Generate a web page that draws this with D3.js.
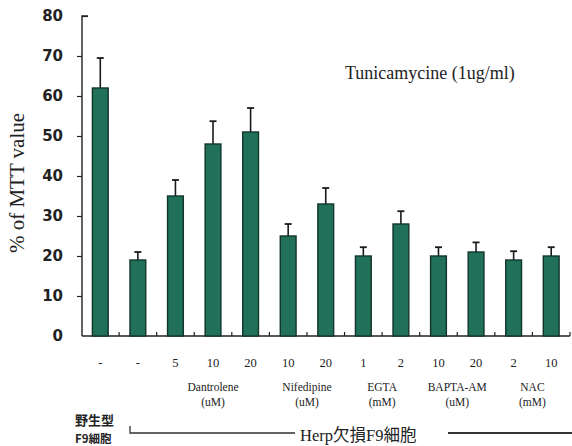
<!DOCTYPE html>
<html><head><meta charset="utf-8">
<script src="https://cdn.jsdelivr.net/npm/d3@7"></script>
<style>body{margin:0;background:#fff}svg{display:block}</style>
</head><body>
<svg id="c" width="572" height="446"></svg>
<script>
// ---- data ----
const doseLabels = ["-", "-", "5", "10", "20", "10", "20", "1", "2", "10", "20", "2", "10"];
const meanValues = [62, 19, 35, 48, 51, 25, 33, 20, 28, 20, 21, 19, 20];
const errorTops  = [69.5, 21, 39, 53.7, 57, 28, 37, 22.2, 31.2, 22.2, 23.4, 21.2, 22.2];
const groupNames = ["Dantrolene", "Nifedipine", "EGTA", "BAPTA-AM", "NAC"];
const groupUnits = ["(uM)", "(uM)", "(mM)", "(uM)", "(mM)"];
const groupStart = [2, 5, 7, 9, 11];
const groupEnd   = [4, 6, 8, 10, 12];
const yTicks = [0, 10, 20, 30, 40, 50, 60, 70, 80];

const svg = d3.select("#c");
const idx = d3.range(meanValues.length);
const x = d3.scaleBand().domain(idx).range([81.5, 570]).paddingInner(0.58).paddingOuter(0.29);
const y = d3.scaleLinear().domain([0, 80]).range([336, 16]);
const serif = "'Liberation Serif','Times New Roman',serif";

// y axis
const yAxis = svg.append("g").attr("transform", "translate(82,0)")
  .call(d3.axisLeft(y).tickValues(yTicks).tickSize(5).tickFormat(d3.format("d")).tickPadding(14));
yAxis.select(".domain").attr("stroke", "#222").attr("stroke-width", 1.4).attr("d", "M6,16H0V336");
yAxis.selectAll(".tick line").attr("stroke", "#222").attr("stroke-width", 1.2)
  .attr("x2", d => d === 80 ? 6 : (d === 0 ? 0 : -5));
yAxis.selectAll(".tick text").attr("font-family", "'DejaVu Sans',sans-serif")
  .attr("font-weight", "bold").attr("font-size", 15).attr("fill", "#222");

// x axis
const xAxisG = svg.append("g").attr("transform", "translate(0,336)");
xAxisG.append("line").attr("x1", 82).attr("x2", 570).attr("y1", 0).attr("y2", 0)
  .attr("stroke", "#222").attr("stroke-width", 1.4);
const step = x.step();
xAxisG.selectAll("line.tk").data(idx).enter().append("line").attr("class", "tk")
  .attr("x1", d => x(d) + x.bandwidth() / 2 + step / 2)
  .attr("x2", d => x(d) + x.bandwidth() / 2 + step / 2)
  .attr("y1", 0).attr("y2", -4).attr("stroke", "#222").attr("stroke-width", 1.2);

// error bars
const eb = svg.append("g");
eb.selectAll("line.v").data(idx).enter().append("line")
  .attr("x1", d => x(d) + x.bandwidth() / 2).attr("x2", d => x(d) + x.bandwidth() / 2)
  .attr("y1", d => y(meanValues[d])).attr("y2", d => y(errorTops[d]))
  .attr("stroke", "#1a1a1a").attr("stroke-width", 1.6);
eb.selectAll("line.c").data(idx).enter().append("line")
  .attr("x1", d => x(d) + x.bandwidth() / 2 - 3.5).attr("x2", d => x(d) + x.bandwidth() / 2 + 3.5)
  .attr("y1", d => y(errorTops[d])).attr("y2", d => y(errorTops[d]))
  .attr("stroke", "#1a1a1a").attr("stroke-width", 1.8);

// bars
svg.append("g").selectAll("rect").data(idx).enter().append("rect")
  .attr("x", d => x(d)).attr("width", x.bandwidth())
  .attr("y", d => y(meanValues[d])).attr("height", d => y(0) - y(meanValues[d]))
  .attr("fill", "#21705a").attr("stroke", "#12352a").attr("stroke-width", 1.4);

// dose labels
svg.append("g").selectAll("text").data(idx).enter().append("text")
  .attr("x", d => x(d) + x.bandwidth() / 2).attr("y", 367)
  .attr("text-anchor", "middle").attr("font-family", serif).attr("font-size", 12.5).attr("fill", "#222")
  .text(d => doseLabels[d]);

// group labels
const gc = i => (x(groupStart[i]) + x(groupEnd[i]) + x.bandwidth()) / 2;
const gl = svg.append("g");
gl.selectAll("text.n").data(groupNames).enter().append("text")
  .attr("x", (d, i) => gc(i)).attr("y", 391).attr("text-anchor", "middle")
  .attr("font-family", serif).attr("font-size", 11.5).attr("fill", "#222").text(d => d);
gl.selectAll("text.u").data(groupUnits).enter().append("text")
  .attr("x", (d, i) => gc(i)).attr("y", 406).attr("text-anchor", "middle")
  .attr("font-family", serif).attr("font-size", 11.5).attr("fill", "#222").text(d => d);

// y title
svg.append("text").attr("transform", "translate(24,183) rotate(-90)")
  .attr("text-anchor", "middle").attr("font-family", serif).attr("font-size", 21).attr("fill", "#222")
  .text("% of MTT value");

// annotation
svg.append("text").attr("x", 345).attr("y", 79).attr("font-family", serif).attr("font-size", 18)
  .attr("fill", "#222").text("Tunicamycine (1ug/ml)");

// bottom labels
const cjk = "'Noto Sans CJK JP','Noto Sans CJK SC',sans-serif";
svg.append("text").attr("x", 75).attr("y", 425).attr("font-family", cjk).attr("font-weight", "bold")
  .attr("font-size", 13).attr("fill", "#222").text("野生型");
svg.append("text").attr("x", 75).attr("y", 442.5).attr("font-family", cjk).attr("font-weight", "bold")
  .attr("font-size", 11.5).attr("fill", "#222").text("F9細胞");
svg.append("path").attr("d", "M130,426V433H295").attr("fill", "none").attr("stroke", "#333").attr("stroke-width", 1.3);
svg.append("path").attr("d", "M448,433H572").attr("fill", "none").attr("stroke", "#333").attr("stroke-width", 1.8);
svg.append("text").attr("x", 300).attr("y", 441).attr("font-family", "'Liberation Serif'," + cjk)
  .attr("font-size", 16.5).attr("fill", "#222").text("Herp欠損F9細胞");
</script>
</body></html>
